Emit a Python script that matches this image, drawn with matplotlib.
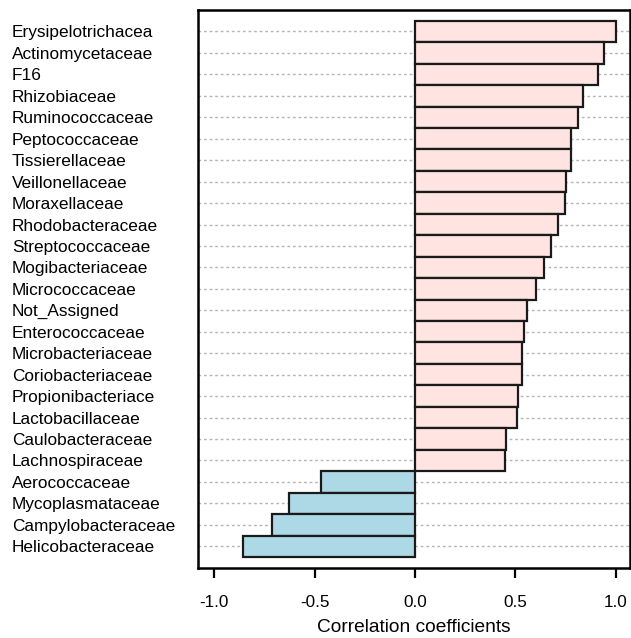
import numpy as np
import matplotlib.pyplot as plt

plt.rcParams["font.family"] = ["Liberation Sans", "DejaVu Sans"]

# families, top to bottom as drawn
families = [
    "Erysipelotrichacea", "Actinomycetaceae", "F16", "Rhizobiaceae",
    "Ruminococcaceae", "Peptococcaceae", "Tissierellaceae", "Veillonellaceae",
    "Moraxellaceae", "Rhodobacteraceae", "Streptococcaceae", "Mogibacteriaceae",
    "Micrococcaceae", "Not_Assigned", "Enterococcaceae", "Microbacteriaceae",
    "Coriobacteriaceae", "Propionibacteriace", "Lactobacillaceae",
    "Caulobacteraceae", "Lachnospiraceae", "Aerococcaceae",
    "Mycoplasmataceae", "Campylobacteraceae", "Helicobacteraceae",
]
corr = [
    0.998, 0.940, 0.913, 0.834, 0.812, 0.777, 0.774, 0.752, 0.749, 0.712,
    0.679, 0.644, 0.603, 0.558, 0.540, 0.534, 0.535, 0.515, 0.507, 0.455,
    0.450, -0.468, -0.625, -0.713, -0.854,
]
xticks = [-1.0, -0.5, 0.0, 0.5, 1.0]

corr = np.array(corr)
ypos = np.arange(len(families))[::-1]
colors = np.where(corr >= 0, "#FFE4E1", "#ADD8E6")

fig = plt.figure(figsize=(6.31, 6.38), dpi=100)
ax = fig.add_axes([0.3138, 0.1102, 0.6846, 0.8741])

for y in ypos:
    ax.axhline(y, color="#b5b5b5", lw=1.0, ls=(0, (2, 2)), zorder=1)
ax.barh(ypos, corr, height=1.0, color=colors, edgecolor="#1a1a1a",
        linewidth=1.6, zorder=2)

ax.set_xlim(-1.08, 1.07)
ax.set_ylim(-1.0, 25.0)
ax.set_xticks(xticks)
ax.set_xticklabels([f"{t:.1f}" for t in xticks], fontsize=12.3)
ax.tick_params(axis="x", length=7, width=1.6, pad=13)
ax.set_yticks(ypos)
ax.set_yticklabels(families, fontsize=12.4, ha="left")
ax.tick_params(axis="y", length=0, pad=134)
ax.set_xlabel("Correlation coefficients", fontsize=13.8, labelpad=6)
for s in ax.spines.values():
    s.set_linewidth(1.8)

fig.savefig("out.png", dpi=100)
